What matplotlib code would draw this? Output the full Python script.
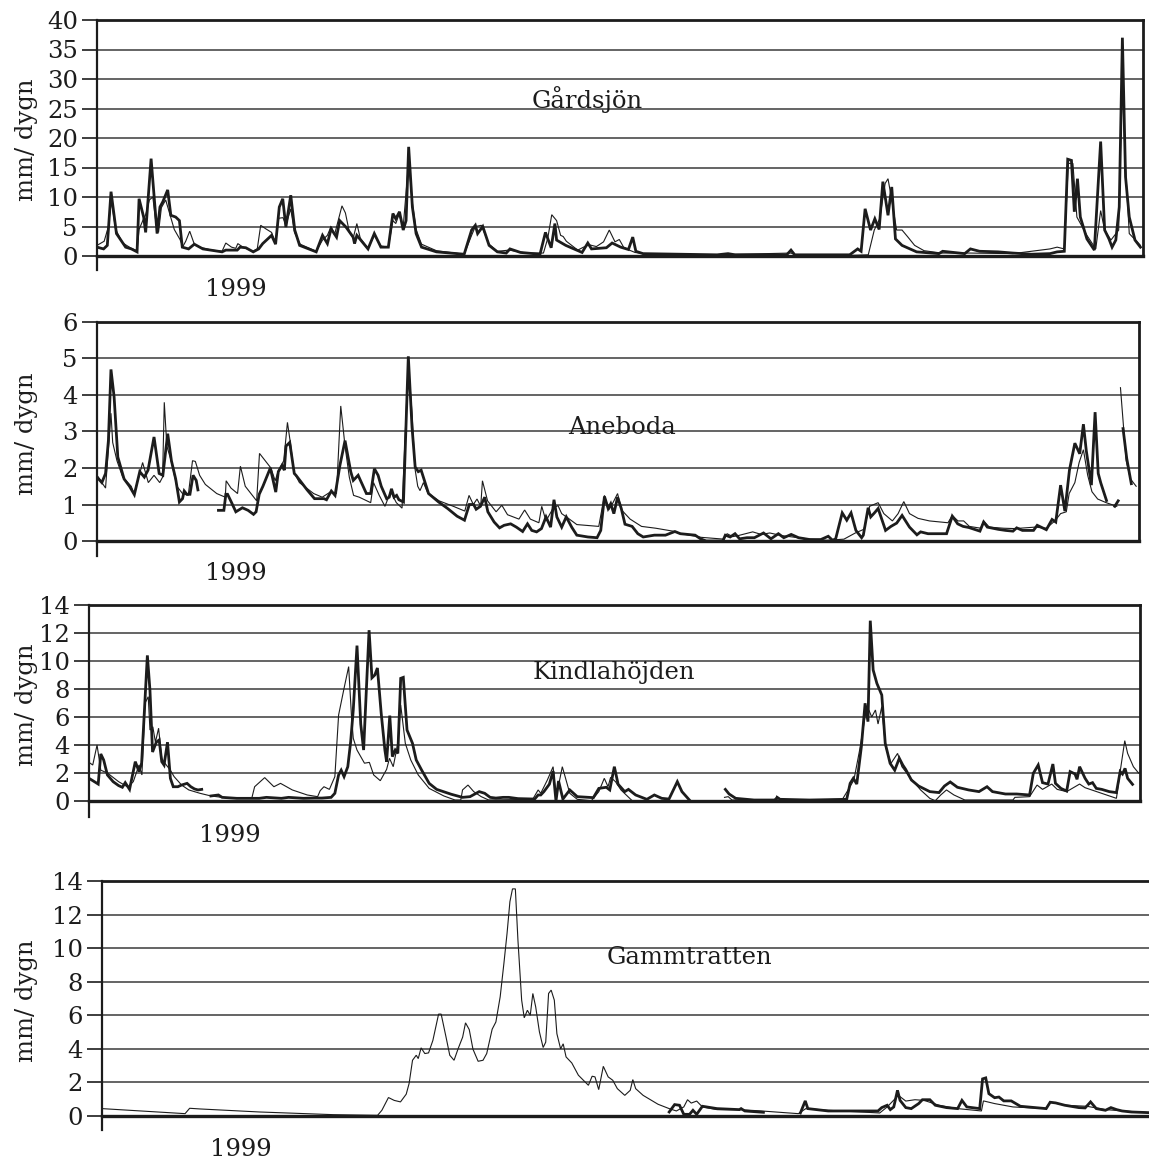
import numpy as np
import matplotlib
matplotlib.use("Agg")
import matplotlib.pyplot as plt

nan = np.nan
plt.rcParams['font.family'] = ['DejaVu Serif']

# ---------------- data: (day of 1999, mm/dygn) ----------------
gardsjon_thick = [(0,1.5),(2.3,1.2),(3.6,1.8),(4.9,10.9),(6.8,3.8),(10,1.5),(12,1.2),(14,0.7),(14.7,9.7),(16.3,6.6),(17,4),(18.9,16.5),(21,3.8),(22,8.3),(23,9.2),(24.7,11.2),(25.8,6.9),(27.5,6.6),(28.8,6),(29.8,1.5),(32,1.2),(34,2),(37,1.2),(43.7,0.7),(45,1),(49,1.0),(50,1.5),(52,1.4),(54.6,0.7),(56.5,1.2),(57.9,2.1),(61,3.5),(62.4,2),(63.7,8.3),(64.9,9.7),(66,4.9),(67.7,10.3),(69.1,4.4),(70.8,1.8),(76.6,0.7),(78.8,3.5),(80.5,2.1),(81.8,4.6),(83.7,3.2),(84.8,6),(87,4.9),(88.6,3.8),(89.5,3.2),(90,2.1),(90.8,3.5),(94.7,1.2),(96.9,3.8),(99.2,1.5),(101.8,1.5),(103.4,7.2),(104.4,6.3),(105.7,7.5),(107,4.4),(108,6),(108.9,18.5),(110.2,8.3),(111.5,3.8),(113.4,1.5),(118.6,0.7),(128.3,0.3),(130.9,4.4),(132.2,5.2),(133,3.8),(134.8,5),(137,1.8),(139.9,0.7),(143,0.5),(144.3,1.2),(148,0.6),(154.8,0.3),(156.7,4),(158.7,1.4),(160,5.5),(160.6,2.7),(163.8,1.8),(169.5,0.6),(171.5,2.2),(172.8,1.2),(178,1.4),(180,2.2),(183,1.5),(185.7,1.1),(187.2,3.2),(188.3,0.8),(190.8,0.4),(203.8,0.3),(216.7,0.2),(220.5,0.4),(223,0.2),(241,0.2),(242.5,1.0),(243.8,0.2),(263,0.2),(265.8,1.2),(267,0.8),(268.4,8),(270.3,4.4),(271.8,6.3),(273.3,4.5),(274.6,12.6),(276.4,6.9),(277.7,11.7),(279,2.9),(281.3,1.8),(286.4,0.7),(294.2,0.4),(295.5,0.8),(303.2,0.4),(305.2,1.2),(308.4,0.8),(314.9,0.7),(320,0.5),(326.5,0.3),(333,0.4),(335.5,0.7),(338,0.8),(339.2,16.4),(340.5,16.2),(341.5,7.5),(342.6,13.1),(343.6,6.6),(345.9,2.9),(348.5,1),(350.7,19.4),(352.1,4.4),(353.6,2.9),(354.7,1.5),(356,2.7),(357.2,8.3),(358.3,37),(359.4,13.4),(360.7,6.6),(362.7,2.7),(364.6,1.5)]
gardsjon_thin = [(0,1.8),(2.5,2.5),(4,5),(5,9.5),(6.5,4.5),(9,2.2),(12,1.3),(14,0.9),(14.7,4.5),(16,6),(17,7),(18.3,9.5),(19.5,10),(20.5,6),(21.5,4),(22.5,8.2),(24,9.5),(25.5,7),(27,4.5),(29,2.8),(30,1.6),(31,2.5),(32.4,4.2),(34,2.0),(36,1.5),(40,1.0),(43.7,0.8),(45,2.2),(47,1.5),(48.5,1.3),(49.2,2.1),(51,1.5),(54.5,0.8),(56,1.2),(57.2,5.2),(59,4.6),(61,4.0),(62.4,2.2),(63.5,6.4),(65,6.5),(66,5.2),(67.7,8),(69,4),(71,2),(76.6,0.8),(78.8,2.7),(80.5,3.5),(81.8,5),(83,3.6),(85.6,8.5),(86.8,7.3),(88.2,4),(89.5,3),(90.8,5.5),(92,3),(94.7,1.3),(96.9,3.5),(99.2,1.7),(101.8,1.5),(103.4,6),(104.4,5.5),(105.5,7),(107,5),(108.9,16),(110.2,9),(111.5,4.5),(113.4,2),(118.6,0.9),(128.3,0.3),(130.9,3.5),(132.2,5.0),(134.3,5.2),(137,2.0),(139.9,0.8),(144,1.0),(150,0.5),(156,0.5),(157.5,3),(158.9,7),(160.6,6),(162,3.5),(162.9,3.3),(164,2.5),(168,1.0),(170,1.5),(172,1.9),(174.5,1.6),(177,2.4),(179,4.4),(181,2.4),(182.5,2.8),(184,1.5),(186,1.0),(188,0.6),(191,0.4),(204,0.3),(216,0.2),(242.5,0.5),(244,0.2),(263,0.1),(269.5,0.2),(271.6,4.4),(273.5,6.3),(275.4,12.3),(276.4,13.1),(277.7,9.5),(279.4,4.4),(281.3,4.4),(283.2,3.3),(285.7,1.8),(289,0.9),(295,0.5),(305,0.5),(320,0.4),(333,1.2),(335.5,1.5),(338,1.2),(339.4,15.7),(341,15.7),(342.4,6.6),(345.9,3.5),(349,1.2),(350.7,7.7),(352.1,4.4),(354.3,2.7),(357,4.4),(358.2,30),(359.4,15),(360.7,3.8),(364.6,1.8)]

aneboda_thick = [(0,1.75),(1.7,1.6),(3,1.85),(4,2.75),(4.9,4.7),(6,3.95),(7.3,2.3),(9.5,1.7),(11.4,1.5),(13.1,1.27),(15,1.9),(16.6,1.75),(17.9,1.94),(20,2.85),(21.8,1.85),(23.1,1.8),(24.8,2.94),(26.1,2.2),(27.6,1.7),(28.9,1.07),(30,1.16),(30.6,1.37),(31.5,1.28),(32.6,1.28),(33.7,1.8),(34.8,1.66),(35.4,1.4),(36,nan),(42.6,0.84),(44.5,0.84),(45.2,1.28),(45.8,1.28),(47.1,1.07),(48.7,0.8),(51,0.91),(53,0.84),(54.9,0.73),(55.8,0.8),(56.9,1.28),(58.2,1.5),(60.8,2.0),(62.7,1.34),(63.6,1.9),(64.9,2.07),(65.7,1.94),(66.3,2.6),(67.6,2.7),(69.2,1.85),(69.8,1.8),(73.7,1.4),(76.3,1.16),(79.6,1.16),(80.5,1.13),(82.2,1.37),(83.5,1.25),(85.2,2.07),(87,2.75),(88.3,2.2),(89,1.9),(89.9,1.66),(91.6,1.8),(94.5,1.3),(96,1.3),(97.3,1.98),(98.6,1.8),(99.7,1.5),(101.6,1.16),(102.5,1.2),(103.3,1.43),(104.2,1.2),(105.1,1.25),(105.9,1.13),(107.5,1.07),(109.2,5.06),(110.5,3.12),(111.6,2.03),(112.7,1.9),(113.7,1.94),(115,1.62),(116.3,1.3),(119.8,1.07),(123,0.89),(126.3,0.68),(128.9,0.57),(130.6,1.0),(132.1,1.0),(133,0.87),(134.5,0.95),(136,1.2),(137.1,0.8),(139.3,0.52),(141.2,0.36),(142.8,0.43),(145.1,0.47),(147.1,0.38),(149.3,0.26),(151,0.47),(152.5,0.29),(154.2,0.25),(155.9,0.34),(157.5,0.66),(159.1,0.38),(160.3,1.13),(161.3,0.66),(163,0.38),(164.6,0.66),(166.5,0.38),(168.3,0.16),(172.2,0.11),(175.4,0.09),(176.7,0.29),(178,1.22),(179.3,0.89),(180.2,1.02),(181.3,0.75),(182.6,1.2),(183.9,0.89),(185.2,0.46),(187.7,0.4),(189.7,0.2),(191.6,0.11),(195.5,0.16),(199.4,0.16),(202.7,0.26),(204.6,0.2),(209.8,0.16),(211.7,0.06),(213.7,0.0),(219.5,0.0),(220.4,0.16),(222.1,0.11),(223.8,0.2),(225.4,0.06),(228,0.09),(230.6,0.09),(233.8,0.22),(236.4,0.06),(239,0.2),(240.9,0.09),(243.5,0.18),(246.1,0.09),(250,0.04),(253.9,0.04),(256.5,0.13),(258,0.02),(259.1,0.06),(261.4,0.77),(263,0.57),(264.5,0.77),(266.2,0.29),(268.2,0.09),(268.8,0.16),(270.5,0.91),(271.4,0.66),(272.7,0.77),(274,0.89),(276.6,0.29),(278.5,0.4),(280.5,0.49),(282.4,0.7),(285,0.38),(287.6,0.17),(288.9,0.25),(291.5,0.2),(298,0.2),(300,0.68),(301.9,0.47),(303.8,0.4),(305.8,0.37),(309.7,0.27),(311,0.52),(312.3,0.38),(316.1,0.32),(318.7,0.29),(321.3,0.27),(322.6,0.36),(324.6,0.29),(328.5,0.29),(329.8,0.43),(333,0.31),(335,0.59),(336.3,0.52),(338,1.53),(339.5,0.82),(341.1,1.94),(343,2.68),(344.7,2.39),(346,3.2),(347,2.48),(348.8,1.53),(350.1,3.53),(351.2,1.85),(352.1,1.59),(354.1,1.11),(355,nan),(357,0.95),(358.2,1.1),(359,nan),(359.9,3.08),(361.2,2.26),(362.8,1.57)]
aneboda_thin = [(0,1.8),(3,1.45),(4.9,3.5),(5.5,2.7),(7,2.2),(9,1.75),(12,1.5),(13,1.3),(15,1.85),(16,2.15),(18,1.6),(20,1.8),(22,1.6),(23,1.75),(23.6,3.8),(24.5,2.6),(26,2.2),(28,1.5),(30,1.3),(32,1.25),(33.5,2.2),(34.5,2.18),(36,1.8),(38,1.55),(42,1.3),(45,1.2),(45.3,1.65),(47,1.45),(49.3,1.3),(50.3,2.05),(52,1.5),(54,1.3),(56,1.1),(57,2.4),(59,2.2),(61,2.0),(62.5,1.65),(63.5,1.9),(65.5,2.2),(66.8,3.25),(68,2.6),(69,1.9),(71,1.6),(74,1.42),(76,1.3),(79,1.2),(82,1.35),(84,1.3),(85.5,3.7),(87,2.6),(88.5,1.75),(90,1.25),(92,1.2),(96,1.05),(97,1.6),(99,1.25),(101,0.95),(103,1.35),(105,1.05),(107,0.9),(109.2,4.9),(110.5,3.5),(111.5,2.0),(112.5,1.5),(113.3,1.38),(114.5,1.6),(116,1.32),(120,1.1),(125,0.95),(129,0.82),(130.5,1.25),(132,1.0),(133.3,1.15),(134.6,0.95),(135.2,1.65),(137,1.1),(140,0.8),(142,0.98),(144,0.72),(148,0.6),(150,0.85),(152,0.6),(155,0.5),(156,0.95),(157.5,0.55),(160,0.9),(161.7,0.97),(163,0.75),(165.7,0.6),(168.3,0.45),(176,0.4),(178,1.25),(179.5,0.85),(181,1.05),(182.6,1.3),(184,0.85),(187,0.6),(191,0.4),(196,0.35),(202,0.27),(205,0.2),(212,0.1),(220,0.05),(221,0.2),(223,0.12),(225,0.15),(230,0.25),(233,0.18),(236,0.22),(240,0.15),(245,0.1),(250,0.05),(256,0.02),(262,0.05),(266,0.22),(269,0.32),(271,0.95),(274,1.05),(276,0.75),(279,0.55),(281,0.75),(283,1.08),(285,0.75),(288,0.62),(292,0.55),(298.5,0.5),(300,0.7),(302,0.55),(304,0.55),(306,0.4),(310,0.35),(311,0.55),(313,0.38),(318,0.35),(322,0.34),(329,0.38),(333,0.35),(336,0.55),(338,0.75),(340,0.8),(341,1.3),(343,1.6),(344.5,2.15),(346,2.5),(347.5,1.8),(349,1.35),(351,1.15),(354,1.05),(357.7,0.95),(358.3,nan),(359,4.2),(361,2.2),(362.5,1.7),(364.5,1.5)]

kindla_thick = [(0,1.62),(1.9,1.38),(3.2,1.21),(4.1,3.36),(5.1,2.93),(6.4,1.86),(8.4,1.38),(10.3,1.1),(11.6,0.98),(12.6,1.31),(14.1,0.83),(16.1,2.81),(17.4,2.1),(18.3,2.7),(19.3,6.5),(20.3,10.4),(21.2,7.9),(22.1,3.5),(23.4,4.2),(24.4,4.36),(25.3,2.81),(26.1,2.57),(27.3,4.2),(28.3,1.62),(29.3,1.02),(30.9,1.02),(32.2,1.14),(34.1,1.26),(35.4,1.02),(36.7,0.86),(37.9,0.79),(39.2,0.83),(40,nan),(42.4,0.36),(45,0.43),(46.3,0.26),(51.4,0.19),(59.2,0.19),(61.7,0.26),(66.9,0.19),(69.4,0.26),(74.6,0.19),(78.4,0.21),(81,0.21),(84.2,0.26),(85.5,0.55),(86.8,1.86),(87.7,2.2),(88.7,1.74),(90,2.45),(91,4.24),(91.9,6.5),(93.2,11.1),(94.5,5.5),(95.5,3.64),(97.4,12.2),(98.4,8.8),(99.4,9.0),(100.3,9.5),(101.6,6.3),(102.9,3.64),(103.5,2.81),(104.6,6.1),(105.5,3.17),(106.5,3.64),(107.4,3.4),(108.4,8.76),(109.3,8.83),(110.6,5.07),(112.5,4.12),(113.8,2.93),(115.7,2.2),(118.3,1.26),(120.9,0.83),(126,0.48),(129.9,0.26),(132.5,0.31),(135.7,0.67),(137.6,0.55),(139.5,0.26),(141.5,0.21),(144,0.26),(146,0.26),(149.2,0.17),(155,0.14),(156.2,0.43),(157.1,0.43),(158.2,0.67),(160.1,1.2),(161.4,2.14),(162.4,0.0),(163.3,1.43),(164.8,0.14),(167.2,0.79),(169.8,0.31),(173.4,0.26),(175.4,0.24),(177.3,0.9),(179.9,0.98),(181.1,0.79),(182.7,2.45),(184,1.2),(186.3,0.67),(187.6,0.83),(190.1,0.43),(194,0.12),(196.6,0.43),(199.2,0.19),(201.7,0.14),(204.6,1.38),(206.2,0.67),(208.8,0.07),(210,nan),(221.3,0.83),(222.6,0.5),(224.9,0.19),(231.3,0.07),(239,0.07),(239.3,0.26),(240.3,0.12),(250.6,0.07),(263.5,0.12),(264.7,1.26),(265.8,1.62),(267,1.21),(268.6,3.88),(269.9,6.98),(270.9,5.67),(271.7,12.88),(272.7,9.36),(274,8.4),(275.7,7.57),(276.9,4.12),(278.6,2.69),(280.2,2.2),(281.8,3.05),(283,2.57),(284,2.26),(286,1.5),(288.5,1.07),(292.4,0.67),(295.6,0.6),(297.5,1.07),(299.5,1.36),(302,0.98),(305.9,0.79),(309.5,0.67),(312.3,1.02),(314.2,0.67),(318.7,0.5),(322.6,0.5),(327.1,0.43),(328.4,1.98),(330.1,2.57),(331.6,1.31),(333.5,1.21),(335.2,2.64),(336.1,1.26),(338,0.9),(340,0.71),(341.2,2.1),(342.9,1.93),(343.6,1.55),(344.5,2.45),(346.4,1.62),(347.7,1.21),(349,1.31),(350.3,0.9),(352.2,0.83),(354.8,0.67),(357.3,0.6),(358.6,2.1),(359.4,1.93),(360.3,2.33),(361.2,1.62),(362.9,1.19)]
kindla_thin = [(0,2.76),(1.3,2.57),(2.8,4.0),(4.1,2.2),(6.4,2.0),(10.3,1.38),(13.5,1.0),(15.4,1.38),(17.4,2.57),(18.4,1.86),(19.5,7.0),(20.6,7.45),(21.2,5.07),(22.2,5.3),(23.1,4.2),(24.2,5.2),(25.3,3.05),(26.4,2.7),(28.3,2.2),(29.6,1.74),(32.2,1.14),(34.7,0.79),(38.6,0.55),(42.4,0.36),(46.3,0.26),(52.7,0.19),(56.6,0.19),(57.6,1.02),(61.1,1.67),(64.3,1.02),(66.6,1.26),(70.7,0.79),(75.9,0.43),(79.5,0.31),(80.4,0.74),(81.7,1.02),(83.6,0.83),(85.5,1.74),(86.8,6.14),(88.7,8.05),(90.3,9.6),(91.3,6.0),(91.9,4.48),(93.2,3.64),(95.8,2.7),(97.5,2.76),(99,1.86),(101.3,1.45),(103.5,2.26),(104.5,3.05),(105.8,2.45),(107.4,4.12),(108.4,6.86),(110,4.12),(111.9,2.93),(114.5,1.86),(118.3,0.9),(123.4,0.36),(127.3,0.07),(129.3,0.07),(129.9,0.79),(131.8,1.14),(133.8,0.67),(136.4,0.31),(139,0.07),(154.3,0.12),(156.2,0.79),(157.1,0.55),(159.4,1.5),(161.4,2.45),(162.4,0.19),(164.6,2.45),(167.2,0.55),(169.8,0.12),(174.7,0.02),(177.3,0.67),(179.2,1.62),(180.5,1.02),(181.4,1.69),(183.1,1.38),(185,0.79),(188.9,0.02),(205,0.02),(210,nan),(221,0.26),(222.3,0.31),(223.6,0.07),(238,0.05),(239.3,0.31),(241,0.05),(262,0.12),(264,0.79),(266,1.5),(268,3.64),(270,6.14),(271.2,6.5),(272.2,6.0),(273.5,6.5),(274.4,5.5),(275.7,6.74),(277,3.88),(278.9,2.69),(281.2,3.4),(282.7,2.45),(285.3,1.74),(289.2,0.79),(292.4,0.19),(294.3,0.02),(296.2,0.43),(298.2,0.79),(300.8,0.43),(304.6,0.07),(321.3,0.07),(322,0.26),(327.1,0.31),(329.7,1.14),(331.6,0.83),(334.8,1.21),(336.7,0.83),(340,0.67),(344.5,1.21),(346.4,0.95),(357.3,0.19),(358.6,2.1),(360.2,4.31),(361.2,3.4),(363.2,2.45),(365,2.0)]

gamm_thick = [(198,0.24),(199.9,0.68),(201.6,0.64),(203.1,0.1),(205.1,0.1),(206.3,0.34),(207.6,0.1),(209.6,0.58),(214.7,0.44),(222.5,0.38),(223.1,0.44),(224.4,0.3),(230.9,0.22),(235,nan),(243.8,0.18),(245.5,0.9),(246.4,0.44),(253.5,0.3),(270.9,0.3),(272.2,0.5),(274.1,0.64),(275.2,0.38),(276.4,0.54),(277.7,1.53),(278.6,0.93),(280.6,0.5),(282.5,0.44),(285.1,0.74),(286.4,0.97),(289,0.97),(290.9,0.64),(294.8,0.5),(298.7,0.44),(300.2,0.93),(301.9,0.54),(306.4,0.44),(307.4,2.21),(308.5,2.27),(309.6,1.33),(311.6,1.09),(313.1,1.13),(314.8,0.9),(317.4,0.9),(320.6,0.58),(329.6,0.44),(331,0.82),(332.9,0.78),(336.1,0.64),(341,0.5),(343.2,0.48),(345.1,0.84),(347.1,0.44),(350.3,0.34),(352.2,0.5),(354.2,0.38),(356.1,0.3),(359.3,0.24),(365.5,0.2)]
gamm_thin = [(0,0.44),(29,0.14),(30.6,0.46),(34.2,0.42),(54.9,0.24),(80.7,0.08),(96.2,0.04),(97.7,0.34),(100,1.1),(102,0.93),(104.2,0.84),(106.2,1.3),(107.2,1.93),(108.4,3.32),(109.7,3.62),(110.4,3.42),(111.4,4.06),(112.7,3.72),(114,3.76),(115.5,4.5),(117.5,6.07),(118.4,6.07),(120.1,4.7),(121.4,3.62),(122.9,3.32),(124.3,4.0),(125.9,4.7),(126.9,5.55),(128.2,5.15),(129.5,3.98),(131.3,3.26),(133,3.32),(134.3,3.72),(136.2,5.17),(137.5,5.6),(139,7.1),(140.3,9.09),(141.4,10.88),(142.4,12.77),(143.3,13.53),(144.3,13.53),(145.2,10.48),(146.5,6.9),(147.4,5.85),(148.5,6.3),(149.5,6.0),(150.4,7.3),(151.4,6.5),(152.7,5.01),(154,4.08),(154.9,4.4),(155.9,7.3),(156.8,7.5),(157.9,6.9),(158.8,4.9),(160.1,4.0),(161,4.3),(162,3.52),(164,3.16),(166.3,2.43),(169.8,1.83),(171.1,2.37),(172.1,2.33),(173.4,1.57),(175,2.96),(176.7,2.33),(178.3,2.13),(179.9,1.63),(182.5,1.23),(184.4,1.53),(185.3,2.17),(186.3,1.63),(188.9,1.23),(194.1,0.7),(198,0.44),(200.5,0.3),(203.1,0.54),(204.4,0.97),(205.7,0.77),(207.6,0.89),(209.6,0.54),(214.7,0.38),(222.5,0.38),(230.2,0.3),(243.1,0.14),(245.7,0.44),(253.5,0.34),(271.5,0.18),(274.1,0.54),(278,1.23),(280.6,0.89),(283.8,0.97),(287,0.93),(292.2,0.64),(298.7,0.44),(307,0.3),(307.7,0.9),(311.6,0.74),(318,0.54),(329.6,0.44),(331,0.84),(336.1,0.64),(343.8,0.58),(350.3,0.38),(356.7,0.3),(365.5,0.2)]

station_names = ["Gårdsjön", "Aneboda", "Kindlahöjden", "Gammtratten"]
y_max = [40, 6, 14, 14]
y_step = [5, 1, 2, 2]
year_label = "1999"
y_label = "mm/ dygn"

# ---------------- layout (pixels) ----------------
W, H = 1149, 1160
fig = plt.figure(figsize=(W / 100, H / 100), dpi=100)

# left, right, top(ymax), zero-line, spine bottom
panels = [
    (97, 1143, 20, 256, 270),
    (97, 1139, 322, 541, 556),
    (89, 1140, 605, 801, 817),
    (102, 1149, 881, 1116, 1130),
]
titles_px = [(532, 100), (568, 428), (533, 673), (607, 957)]
year_px = [(236, 290), (236, 574), (230, 835), (241, 1150)]

ink = "#1c1c1c"
fs = 17.5

series = [
    (gardsjon_thick, gardsjon_thin),
    (aneboda_thick, aneboda_thin),
    (kindla_thick, kindla_thin),
    (gamm_thick, gamm_thin),
]

for i, (l, r, t, z, b) in enumerate(panels):
    ax = fig.add_axes([l / W, 1 - b / H, (r - l) / W, (b - t) / H])
    ymax = y_max[i]
    ymin = -ymax * (b - z) / (z - t)
    ax.set_ylim(ymin, ymax)
    ax.set_xlim(0, 365.5)
    ax.set_facecolor("none")

    thick, thin = series[i]
    tx, ty = np.array(thin, dtype=float).T
    kx, ky = np.array(thick, dtype=float).T
    ax.plot(tx, ty, color=ink, lw=0.8, zorder=3, solid_joinstyle="miter")
    ax.plot(kx, ky, color=ink, lw=2.0, zorder=4, solid_joinstyle="miter")

    ticks = np.arange(0, ymax + 0.001, y_step[i])
    ax.set_yticks(ticks)
    ax.set_yticklabels([f"{int(v)}" for v in ticks])
    ax.set_xticks([])
    ax.tick_params(axis="y", length=10.8, width=1.2, color=ink, pad=3,
                   labelsize=fs, labelcolor=ink)
    ax.yaxis.grid(True, color="#3a3a3a", lw=1.1, zorder=1)
    ax.set_axisbelow(True)

    for s in ["left", "right", "top", "bottom"]:
        ax.spines[s].set_color(ink)
    ax.spines["bottom"].set_position(("data", 0))
    ax.spines["bottom"].set_linewidth(2.4)
    ax.spines["top"].set_linewidth(2.0)
    ax.spines["left"].set_linewidth(1.6)
    ax.spines["right"].set_linewidth(2.0)
    ax.spines["right"].set_bounds(0, ymax)
    if i == 3:
        ax.spines["right"].set_visible(False)

    fig.text(titles_px[i][0] / W, 1 - titles_px[i][1] / H, station_names[i],
             fontsize=fs, color=ink, ha="left", va="center")
    fig.text(year_px[i][0] / W, 1 - year_px[i][1] / H, year_label,
             fontsize=fs, color=ink, ha="center", va="center")
    fig.text(27 / W, 1 - ((t + z) / 2 + 2) / H, y_label, fontsize=fs, color=ink,
             rotation=90, ha="center", va="center")

fig.savefig("out.png", dpi=100)
